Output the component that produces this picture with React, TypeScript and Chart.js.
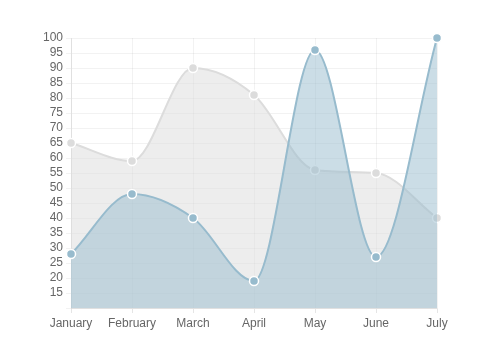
import React, { useEffect, useRef } from "react";
import { Chart, registerables } from "chart.js";

Chart.register(...registerables);

const categories = ["January", "February", "March", "April", "May", "June", "July"];
const grayValues = [65, 59, 90, 81, 56, 55, 40];
const blueValues = [28, 48, 40, 19, 96, 27, 100];
const yMin = 10;
const yMax = 100;
const yStep = 5;

export default function App() {
  const ref = useRef<HTMLCanvasElement | null>(null);
  useEffect(() => {
    document.body.style.margin = "0";
    const ctx = ref.current!;
    const chart = new Chart(ctx, {
      type: "line",
      data: {
        labels: categories,
        datasets: [
          {
            label: "Gray",
            data: grayValues,
            order: 2,
            fill: "start",
            clip: false,
            backgroundColor: "rgba(220,220,220,0.5)",
            borderColor: "rgba(220,220,220,1)",
            borderWidth: 2,
            pointBackgroundColor: "rgba(220,220,220,1)",
            pointBorderColor: "#fff",
            pointBorderWidth: 1.5,
            pointRadius: 4.5,
            cubicInterpolationMode: "monotone",
          },
          {
            label: "Blue",
            data: blueValues,
            order: 1,
            fill: "start",
            clip: false,
            backgroundColor: "rgba(151,187,205,0.5)",
            borderColor: "rgba(151,187,205,1)",
            borderWidth: 2,
            pointBackgroundColor: "rgba(151,187,205,1)",
            pointBorderColor: "#fff",
            pointBorderWidth: 1.5,
            pointRadius: 4.5,
            cubicInterpolationMode: "monotone",
          },
        ],
      },
      options: {
        responsive: false,
        animation: false,
        layout: { padding: { top: 38, right: 64, left: 0, bottom: 0 } },
        plugins: {
          legend: { display: false },
          tooltip: { enabled: false },
          filler: { drawTime: "beforeDatasetDraw" },
        },
        scales: {
          x: {
            grid: { color: "rgba(0,0,0,0.05)", tickLength: 5, tickColor: "rgba(0,0,0,0.1)" },
            border: { color: "rgba(0,0,0,0.08)" },
            ticks: {
              color: "#666",
              font: { family: "'Liberation Sans', Arial, sans-serif", size: 12 },
              padding: 3,
              maxRotation: 0,
              autoSkip: false,
            },
            afterFit: (s: any) => {
              s.height = 52;
            },
          },
          y: {
            min: yMin,
            max: yMax,
            grid: { color: "rgba(0,0,0,0.05)", tickLength: 5, tickColor: "rgba(0,0,0,0.05)" },
            border: { color: "rgba(0,0,0,0.08)" },
            ticks: {
              stepSize: yStep,
              autoSkip: false,
              color: "#666",
              font: { family: "'Liberation Sans', Arial, sans-serif", size: 12 },
              padding: 3,
              callback: (v: any) => (v === yMin ? "" : String(v)),
            },
            afterFit: (s: any) => {
              s.width = 71;
            },
          },
        },
      },
    });
    return () => chart.destroy();
  }, []);
  return <canvas ref={ref} width={501} height={360} style={{ display: "block" }} />;
}
